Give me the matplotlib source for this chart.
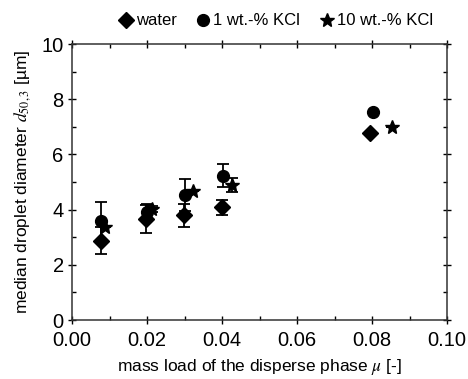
import matplotlib
matplotlib.use("Agg")
import matplotlib.pyplot as plt
from matplotlib.ticker import MultipleLocator

plt.rcParams['font.family'] = ['Liberation Sans', 'DejaVu Sans']
plt.rcParams['mathtext.fontset'] = 'stix'

# water
mu_water = [0.0077, 0.0198, 0.0299, 0.0400, 0.0795]
d_water = [2.88, 3.66, 3.80, 4.08, 6.76]
err_water = [0.50, 0.50, 0.42, 0.27, 0.0]

# 1 wt.-% KCl
mu_kcl1 = [0.0077, 0.0199, 0.0301, 0.0402, 0.0803]
d_kcl1 = [3.58, 3.92, 4.53, 5.23, 7.55]
err_kcl1 = [0.68, 0.30, 0.57, 0.42, 0.0]

# 10 wt.-% KCl
mu_kcl10 = [0.0088, 0.0213, 0.0322, 0.0427, 0.0854]
d_kcl10 = [3.37, 4.03, 4.66, 4.88, 6.99]
err_kcl10 = [0.0, 0.10, 0.0, 0.25, 0.0]

fig = plt.figure(figsize=(4.68, 3.79), dpi=100)
ax = fig.add_axes([72 / 468, 1 - 320 / 379, 375 / 468, 276 / 379])

ekw = dict(color='black', ecolor='black', capsize=4, elinewidth=1.3,
           capthick=1.3, linestyle='none')
ax.errorbar(mu_water, d_water, yerr=err_water, marker='D', markersize=8,
            label='water', **ekw)
ax.errorbar(mu_kcl1, d_kcl1, yerr=err_kcl1, marker='o', markersize=8.5,
            label='1 wt.-% KCl', **ekw)
ax.errorbar(mu_kcl10, d_kcl10, yerr=err_kcl10, marker='*', markersize=10,
            label='10 wt.-% KCl', **ekw)

ax.set_xlim(0, 0.10)
ax.set_ylim(0, 10)
ax.xaxis.set_major_locator(MultipleLocator(0.02))
ax.xaxis.set_minor_locator(MultipleLocator(0.01))
ax.yaxis.set_major_locator(MultipleLocator(2))
ax.yaxis.set_minor_locator(MultipleLocator(1))
ax.xaxis.set_major_formatter(plt.FuncFormatter(lambda v, p: f"{v:.2f}"))

ax.tick_params(which='major', direction='inout', length=6, width=1,
               labelsize=14.5, top=True, right=True)
ax.tick_params(which='minor', direction='in', length=3, width=1,
               top=True, right=True)
ax.tick_params(axis='x', pad=5)
ax.tick_params(axis='y', pad=3)
for s in ax.spines.values():
    s.set_linewidth(1.1)
    s.set_color('#333333')

ax.set_xlabel(r"mass load of the disperse phase $\mu$ [-]", fontsize=12.5,
              labelpad=5)
ax.set_ylabel(r"median droplet diameter $d_{50,3}$ [µm]", fontsize=12.5,
              labelpad=6)

handles, labels = ax.get_legend_handles_labels()
handles = [h[0] for h in handles]
ax.legend(handles, labels, loc='lower center', bbox_to_anchor=(0.54, 1.02),
          ncol=3, frameon=False, fontsize=12, handletextpad=0.0,
          columnspacing=1.0, handlelength=1.2, borderaxespad=0.2)

fig.savefig("out.png", dpi=100)
